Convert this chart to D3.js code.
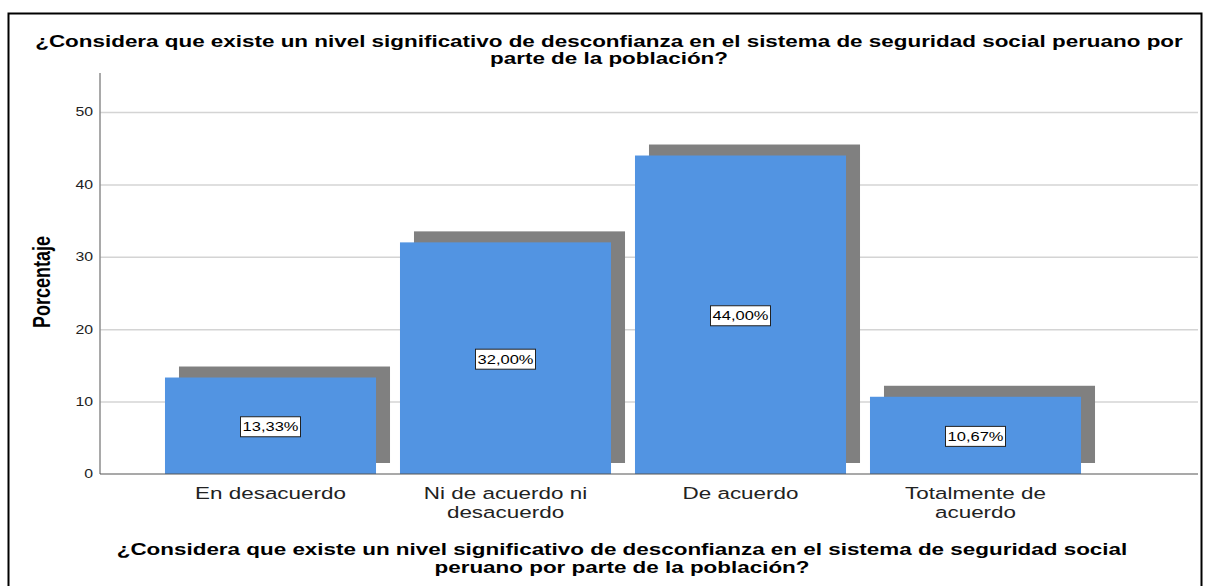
<!DOCTYPE html>
<meta charset="utf-8">
<style>
    body {
        margin: 0;
        background: #fff;
        font-family: "Liberation Sans", Arial, sans-serif;
    }

    .grid line {
        stroke: #d4d4d4;
        stroke-width: 1.5;
    }

    .grid path {
        display: none;
    }

    .yaxis path {
        stroke: #8c8c8c;
        stroke-width: 1.5;
    }

    .yaxis line {
        display: none;
    }
</style>

<body>
    <script src="https://d3js.org/d3.v7.min.js"></script>
    <script>
        var categories = ["En desacuerdo", "Ni de acuerdo ni desacuerdo", "De acuerdo", "Totalmente de acuerdo"];
        var categoryLines = [["En desacuerdo"], ["Ni de acuerdo ni", "desacuerdo"], ["De acuerdo"], ["Totalmente de", "acuerdo"]];
        var percentages = [13.33, 32.00, 44.00, 10.67];
        var valueLabels = ["13,33%", "32,00%", "44,00%", "10,67%"];
        var yTicks = [0, 10, 20, 30, 40, 50];
        var titleLines = ["¿Considera que existe un nivel significativo de desconfianza en el sistema de seguridad social peruano por",
            "parte de la población?"];
        var xTitleLines = ["¿Considera que existe un nivel significativo de desconfianza en el sistema de seguridad social",
            "peruano por parte de la población?"];
        var yTitle = "Porcentaje";

        var W = 1205, H = 586;
        var plotLeft = 100, plotRight = 1198, plotTop = 73, plotBottom = 474;
        var sx = 1.32; // the reference picture is stretched sideways

        var svg = d3.select("body").append("svg")
            .attr("width", W)
            .attr("height", H);

        // frame
        svg.append("rect")
            .attr("x", 8.5).attr("y", 13.5)
            .attr("width", 1193).attr("height", 600)
            .attr("fill", "none")
            .attr("stroke", "#000")
            .attr("stroke-width", 2);

        var x = d3.scaleBand()
            .domain(categories)
            .range([153, 1093])
            .paddingInner(0.102)
            .paddingOuter(0.051);

        var y = d3.scaleLinear()
            .domain([0, 55.4])
            .range([plotBottom, plotTop]);

        // gridlines
        svg.append("g")
            .attr("class", "grid")
            .attr("transform", "translate(" + plotLeft + ",0)")
            .call(d3.axisRight(y).tickValues(yTicks.slice(1)).tickSize(plotRight - plotLeft).tickFormat(""));

        var shadowDx = 14, shadowDy = 11;

        var bars = svg.selectAll(null)
            .data(categories)
            .enter()
            .append("g");

        bars.append("rect")
            .attr("x", function (d) { return x(d) + shadowDx; })
            .attr("y", function (d, i) { return y(percentages[i]) - shadowDy; })
            .attr("width", x.bandwidth())
            .attr("height", function (d, i) { return y(0) - y(percentages[i]); })
            .attr("fill", "#808080");

        bars.append("rect")
            .attr("x", function (d) { return x(d); })
            .attr("y", function (d, i) { return y(percentages[i]); })
            .attr("width", x.bandwidth())
            .attr("height", function (d, i) { return y(0) - y(percentages[i]); })
            .attr("fill", "#5294e2");

        // y axis
        var yAxis = svg.append("g")
            .attr("class", "yaxis")
            .attr("transform", "translate(" + plotLeft + ",0)")
            .call(d3.axisLeft(y).tickValues(yTicks).tickSize(0).tickPadding(0).tickFormat(d3.format("d")));
        yAxis.select(".domain").attr("d", "M0," + plotTop + "V" + plotBottom);
        yAxis.selectAll(".tick text")
            .attr("x", 0)
            .attr("font-size", 12)
            .attr("fill", "#222")
            .attr("transform", "translate(-7,0) scale(" + sx + ",1)");

        // x axis line
        svg.append("line")
            .attr("x1", plotLeft).attr("x2", plotRight)
            .attr("y1", plotBottom).attr("y2", plotBottom)
            .attr("stroke", "#555")
            .attr("stroke-width", 1.2);

        // value labels
        var labels = bars.append("g")
            .attr("transform", function (d, i) {
                return "translate(" + (x(d) + x.bandwidth() / 2) + "," + ((y(percentages[i]) + y(0)) / 2 + 1) + ")";
            });
        labels.append("rect")
            .attr("x", -30).attr("y", -10)
            .attr("width", 60).attr("height", 20)
            .attr("fill", "#fff")
            .attr("stroke", "#222")
            .attr("stroke-width", 1);
        labels.append("text")
            .attr("text-anchor", "middle")
            .attr("dy", "0.36em")
            .attr("font-size", 12.5)
            .attr("fill", "#000")
            .attr("transform", "scale(" + sx + ",1)")
            .text(function (d, i) { return valueLabels[i]; });

        // category labels
        var cat = svg.selectAll(null)
            .data(categories)
            .enter()
            .append("g")
            .attr("transform", function (d) { return "translate(" + (x(d) + x.bandwidth() / 2) + ",499) scale(" + sx + ",1)"; })
            .append("text")
            .attr("text-anchor", "middle")
            .attr("font-size", 17)
            .attr("fill", "#222");
        cat.selectAll("tspan")
            .data(function (d, i) { return categoryLines[i]; })
            .enter()
            .append("tspan")
            .attr("x", 0)
            .attr("dy", function (d, i) { return i === 0 ? 0 : 19; })
            .text(function (d) { return d; });

        // chart title
        svg.selectAll(null)
            .data(titleLines)
            .enter()
            .append("text")
            .attr("transform", function (d, i) { return "translate(609," + (47 + i * 17) + ") scale(" + sx + ",1)"; })
            .attr("text-anchor", "middle")
            .attr("font-size", 17)
            .attr("font-weight", "bold")
            .attr("fill", "#000")
            .text(function (d) { return d; });

        // x title
        svg.selectAll(null)
            .data(xTitleLines)
            .enter()
            .append("text")
            .attr("transform", function (d, i) { return "translate(622," + (555 + i * 18) + ") scale(" + sx + ",1)"; })
            .attr("text-anchor", "middle")
            .attr("font-size", 17)
            .attr("font-weight", "bold")
            .attr("fill", "#000")
            .text(function (d) { return d; });

        // y title
        svg.append("text")
            .attr("transform", "translate(50,282) rotate(-90) scale(1," + sx + ")")
            .attr("text-anchor", "middle")
            .attr("font-size", 18)
            .attr("font-weight", "bold")
            .attr("fill", "#000")
            .text(yTitle);
    </script>
</body>
